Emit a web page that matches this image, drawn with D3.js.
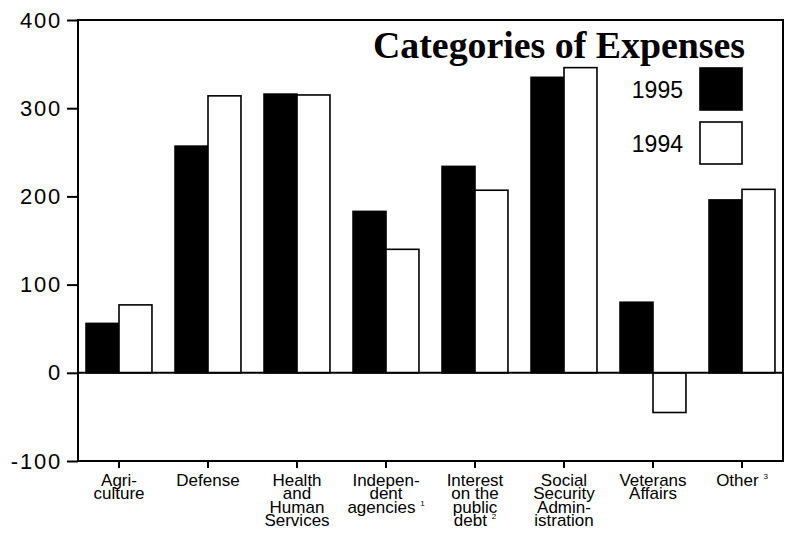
<!DOCTYPE html>
<html>
<head>
<meta charset="utf-8">
<script src="https://cdn.jsdelivr.net/npm/d3@7/dist/d3.min.js"></script>
<style>
    body { margin: 0; background: #fff; }
    svg { display: block; }
</style>
</head>
<body>
<div id="chart"></div>
<script>
const categories = ['Agriculture', 'Defense', 'Health and Human Services', 'Independent agencies',
    'Interest on the public debt', 'Social Security Administration', 'Veterans Affairs', 'Other'];
const labelLines = [
    ['Agri-', 'culture'],
    ['Defense'],
    ['Health', 'and', 'Human', 'Services'],
    ['Indepen-', 'dent', 'agencies'],
    ['Interest', 'on the', 'public', 'debt'],
    ['Social', 'Security', 'Admin-', 'istration'],
    ['Veterans', 'Affairs'],
    ['Other']
];
const footnotes = ['', '', '', '1', '2', '', '', '3'];
const seriesNames = ['1995', '1994'];
const values1995 = [56, 257, 316, 183, 234, 335, 80, 196];
const values1994 = [77, 314, 315, 140, 207, 346, -45, 208];
const yTicks = [-100, 0, 100, 200, 300, 400];

const width = 786;
const height = 537;
const plot = { left: 78, right: 783, top: 20, bottom: 461 };

const svg = d3.select('#chart')
    .append('svg')
    .attr('width', width)
    .attr('height', height);

const y = d3.scaleLinear()
    .domain([-100, 400])
    .range([plot.bottom, plot.top]);

const x0 = d3.scaleBand()
    .domain(categories)
    .range([74.5, 786.5]);

const x1 = d3.scaleBand()
    .domain(seriesNames)
    .range([0, x0.bandwidth()])
    .paddingOuter(0.35);

const rows = categories.map((c, i) => ({
    cat: c,
    vals: [
        { key: '1995', v: values1995[i] },
        { key: '1994', v: values1994[i] }
    ]
}));

// barras
const groups = svg.selectAll('g.cat')
    .data(rows)
    .enter()
    .append('g')
    .attr('class', 'cat')
    .attr('transform', d => `translate(${x0(d.cat)},0)`);

groups.selectAll('rect')
    .data(d => d.vals)
    .enter()
    .append('rect')
    .attr('x', d => x1(d.key))
    .attr('width', x1.bandwidth())
    .attr('y', d => y(Math.max(0, d.v)))
    .attr('height', d => Math.abs(y(d.v) - y(0)))
    .attr('fill', d => d.key === '1995' ? '#000' : '#fff')
    .attr('stroke', '#000')
    .attr('stroke-width', 1.6);

// marco
svg.append('rect')
    .attr('x', plot.left)
    .attr('y', plot.top)
    .attr('width', plot.right - plot.left)
    .attr('height', plot.bottom - plot.top)
    .attr('fill', 'none')
    .attr('stroke', '#000')
    .attr('stroke-width', 2);

svg.append('line')
    .attr('x1', plot.left)
    .attr('x2', plot.right)
    .attr('y1', y(0))
    .attr('y2', y(0))
    .attr('stroke', '#000')
    .attr('stroke-width', 2);

// eje y
const yAxis = svg.append('g')
    .attr('transform', `translate(${plot.left},0)`)
    .call(d3.axisLeft(y)
        .tickValues(yTicks)
        .tickFormat(d => String(d))
        .tickSize(11)
        .tickSizeOuter(0)
        .tickPadding(5));

yAxis.select('.domain').remove();
yAxis.selectAll('line').attr('stroke-width', 2);
yAxis.selectAll('text')
    .attr('font-family', '"Liberation Sans", Arial, sans-serif')
    .attr('font-size', '22px')
    .attr('letter-spacing', '1.8px')
    .attr('fill', '#000');

// eje x
const xAxis = svg.append('g')
    .attr('transform', `translate(0,${plot.bottom})`)
    .call(d3.axisBottom(x0).tickSize(7).tickSizeOuter(0).tickFormat(''));

xAxis.select('.domain').remove();
xAxis.selectAll('line').attr('stroke-width', 2);

const labels = svg.append('g')
    .attr('font-family', '"Liberation Sans", Arial, sans-serif')
    .attr('font-size', '17px')
    .attr('text-anchor', 'middle')
    .attr('fill', '#000');

categories.forEach((c, i) => {
    const cx = x0(c) + x0.bandwidth() / 2;
    const t = labels.append('text')
        .attr('y', 485.5);
    labelLines[i].forEach((line, j) => {
        const ts = t.append('tspan')
            .attr('x', cx)
            .attr('dy', j === 0 ? 0 : 13.6)
            .text(line);
        if (j === labelLines[i].length - 1 && footnotes[i]) {
            ts.append('tspan').text(' ');
            ts.append('tspan')
                .attr('dy', -7)
                .attr('font-size', '8px')
                .text(footnotes[i]);
        }
    });
});

// titulo
svg.append('text')
    .attr('x', 373)
    .attr('y', 58)
    .attr('font-family', '"Liberation Serif", "Times New Roman", serif')
    .attr('font-weight', 'bold')
    .attr('font-size', '38px')
    .attr('textLength', 372)
    .attr('lengthAdjust', 'spacingAndGlyphs')
    .text('Categories of Expenses');

// leyenda
const legend = svg.append('g');
const legendY = [68, 122];

seriesNames.forEach((s, i) => {
    legend.append('rect')
        .attr('x', 700)
        .attr('y', legendY[i])
        .attr('width', 42)
        .attr('height', 42)
        .attr('fill', s === '1995' ? '#000' : '#fff')
        .attr('stroke', '#000')
        .attr('stroke-width', 1.6);
    legend.append('text')
        .attr('x', 683)
        .attr('y', legendY[i] + 30)
        .attr('text-anchor', 'end')
        .attr('font-family', '"Liberation Sans", Arial, sans-serif')
        .attr('font-size', '23px')
        .text(s);
});
</script>
</body>
</html>
